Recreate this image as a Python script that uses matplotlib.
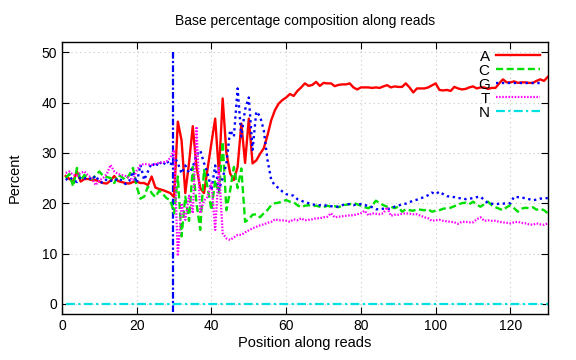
import numpy as np
import matplotlib
matplotlib.use("Agg")
import matplotlib.pyplot as plt

plt.rcParams['font.family'] = ['Liberation Sans', 'DejaVu Sans']

positions = np.arange(1, 131)

pct_a = [25.4, 24.8, 24.3, 26.3, 24.3, 24.8, 24.8, 24.6, 24.6, 24.3,
         24.0, 23.9, 24.5, 25.4, 24.4, 24.2, 24.0, 23.9, 24.2, 24.3,
         24.0, 24.0, 23.6, 25.3, 23.1, 22.8, 22.6, 22.3, 22.0, 21.2,
         36.2, 32.5, 22.0, 28.0, 35.3, 27.2, 23.0, 22.0, 27.0, 32.0,
         36.8, 25.9, 40.8, 30.0, 25.9, 24.6, 27.2, 35.8, 28.0, 36.8,
         27.9, 28.5, 29.8, 30.9, 33.5, 36.5, 38.5, 39.8, 40.5, 41.0,
         41.7, 41.3, 42.3, 43.0, 43.8, 43.3, 43.5, 44.1, 43.3, 43.9,
         43.8, 43.8, 43.25, 43.5, 43.6, 43.6, 43.8, 43.0, 42.6, 43.0,
         43.0, 43.0, 42.9, 43.0, 42.9, 43.2, 43.45, 43.0, 43.2, 43.1,
         43.1, 43.8, 43.0, 42.0, 42.8, 42.8, 42.8, 43.0, 43.4, 43.8,
         42.5, 42.4, 42.5, 42.3, 43.1, 42.8, 42.6, 42.7, 43.0, 43.2,
         42.8, 43.0, 43.0, 42.7, 42.9, 42.9, 43.8, 44.6, 44.0, 44.0,
         44.2, 43.9, 44.0, 44.0, 43.9, 43.9, 44.3, 44.6, 44.3, 45.1]

pct_c = [25.0, 25.8, 23.3, 27.0, 24.5, 25.6, 25.0, 24.8, 25.5, 26.3,
         25.4, 25.2, 25.0, 24.0, 25.6, 25.2, 24.6, 25.6, 27.0, 23.3,
         20.9, 21.3, 23.3, 22.0, 21.2, 22.5, 21.8, 21.0, 20.6, 18.0,
         25.3, 13.4, 21.3, 16.5, 27.2, 20.0, 14.7, 26.6, 23.0, 18.6,
         24.6, 22.0, 32.2, 18.6, 22.5, 27.2, 23.0, 26.9, 16.3, 16.8,
         17.7, 17.8, 17.2, 18.0, 18.65, 19.6, 20.0, 20.1, 20.4, 20.6,
         20.3, 20.2, 19.6, 19.2, 19.5, 19.6, 19.4, 19.5, 19.3, 19.2,
         19.5, 19.3, 19.4, 19.2, 19.5, 19.7, 19.8, 20.0, 19.8, 19.5,
         19.2, 19.0, 19.5, 20.5, 20.0, 19.6, 19.3, 19.3, 19.0, 19.3,
         18.3, 18.8, 18.6, 18.5, 18.8, 18.7, 18.6, 18.8, 18.3, 18.5,
         18.6, 18.9, 19.0, 19.1, 19.4, 19.7, 20.0, 20.1, 19.8, 20.3,
         19.7, 19.3, 19.8, 20.3, 19.6, 19.2, 18.9, 18.6, 19.2, 19.6,
         19.0, 18.3, 18.9, 19.1, 19.0, 19.2, 18.7, 18.9, 18.6, 18.0]

pct_g = [24.6, 25.2, 24.6, 24.2, 25.2, 24.9, 25.2, 24.6, 25.5, 24.3,
         24.0, 24.8, 24.5, 24.3, 25.0, 24.5, 23.8, 24.4, 26.3, 24.0,
         27.6, 24.6, 26.3, 28.0, 27.2, 28.3, 27.5, 28.5, 27.5, 29.2,
         28.0, 25.9, 27.5, 26.0, 27.2, 29.5, 30.5, 28.0, 25.9, 22.6,
         27.5, 22.6, 25.0, 27.9, 34.5, 33.2, 42.8, 33.2, 38.6, 41.0,
         30.6, 38.2, 37.3, 34.5, 28.6, 24.6, 23.5, 23.0, 22.3, 21.8,
         21.6, 21.5, 20.8, 20.5, 20.2, 20.0, 19.8, 19.6, 19.6, 19.6,
         19.5, 19.4, 19.3, 19.3, 19.6, 19.8, 19.8, 19.6, 19.8, 19.8,
         19.6, 19.5, 19.2, 18.8, 18.8, 18.9, 18.8, 19.0, 19.3, 19.5,
         19.8, 19.9, 20.2, 20.5, 20.7, 21.0, 21.2, 21.6, 22.1, 21.8,
         22.3, 21.8, 21.4, 21.3, 21.2, 21.0, 21.0, 20.8, 20.9, 21.0,
         21.2, 21.3, 20.6, 20.0, 19.9, 19.8, 19.9, 19.9, 20.0, 20.0,
         21.3, 21.2, 21.1, 21.0, 20.8, 20.6, 20.7, 20.9, 21.0, 21.0]

pct_t = [26.0, 26.3, 25.6, 25.5, 26.0, 26.3, 25.5, 25.0, 23.6, 24.5,
         25.0, 25.8, 27.6, 26.3, 25.8, 25.6, 25.4, 25.0, 24.6, 26.5,
         27.6, 27.8, 27.7, 27.6, 27.8, 28.0, 28.1, 28.3, 29.0, 30.6,
         9.5, 20.0, 16.7, 21.5, 18.0, 35.2, 18.0, 20.5, 21.3, 24.0,
         14.7, 27.0, 14.0, 13.0, 12.7, 13.2, 13.7, 13.7, 14.2, 14.6,
         15.0, 15.3, 15.6, 15.8, 16.1, 16.3, 16.8, 16.6, 16.6, 16.5,
         16.3, 16.8, 16.6, 17.0, 16.6, 16.7, 16.8, 17.0, 17.0, 17.2,
         17.3, 18.0, 17.2, 17.3, 17.4, 17.5, 17.6, 17.6, 17.8, 18.0,
         18.5, 17.6, 18.0, 17.9, 17.8, 18.0, 19.2, 17.5, 17.7, 17.7,
         17.9, 18.0, 17.9, 17.8, 17.8, 17.5, 17.2, 17.0, 16.5, 16.6,
         16.7, 16.5, 16.4, 16.3, 16.2, 15.9, 16.3, 16.3, 16.2, 16.2,
         16.8, 17.2, 16.5, 16.6, 16.5, 16.5, 16.3, 16.2, 16.1, 16.0,
         16.2, 16.3, 16.1, 16.0, 15.8, 15.7, 16.0, 15.8, 15.7, 16.0]

pct_n = [0.0] * 130

# the stray vertical G segment near position 30
g_spike_x = [29.6, 29.6]
g_spike_y = [50.0, -3.0]

fig = plt.figure(figsize=(5.76, 3.6), dpi=100)
ax = fig.add_axes([0.1076, 0.128, 0.8434, 0.755])

ax.plot(g_spike_x, g_spike_y, color='#0000ff', lw=1.6, ls=(0, (3, 1, 1, 1)))
ax.plot(positions, pct_a, color='#ff0000', lw=1.7, ls='-', label='A')
ax.plot(positions, pct_c, color='#00e000', lw=1.7, ls=(0, (3, 1.5)), label='C')
ax.plot(positions, pct_g, color='#0000ff', lw=1.7, ls=(0, (1, 1.5)), label='G')
ax.plot(positions, pct_t, color='#ff00ff', lw=1.6, ls=(0, (0.7, 0.7)), label='T')
ax.plot(positions, pct_n, color='#00e0e0', lw=1.6, ls=(0, (4, 1.5, 1, 1.5)), label='N')

ax.set_xlim(0, 130)
ax.set_ylim(-2, 52)
ax.set_xticks(np.arange(0, 121, 20))
ax.set_yticks(np.arange(0, 51, 10))
ax.tick_params(direction='in', top=True, right=True, length=5, labelsize=10)
ax.grid(True, color='#c8c8c8', ls=(0, (1, 3)), lw=0.8)
for s in ax.spines.values():
    s.set_linewidth(1.0)

ax.set_xlabel('Position along reads', fontsize=10.5, labelpad=2)
ax.set_ylabel('Percent', fontsize=10.5, labelpad=14)
ax.set_title('Base percentage composition along reads', fontsize=10, pad=12)

ax.legend(loc='upper right', bbox_to_anchor=(1.0, 1.0), frameon=False,
          markerfirst=False, handlelength=2.9, handletextpad=0.4,
          labelspacing=0.0, fontsize=11, borderaxespad=0.1)

fig.savefig('out.png', dpi=100)
